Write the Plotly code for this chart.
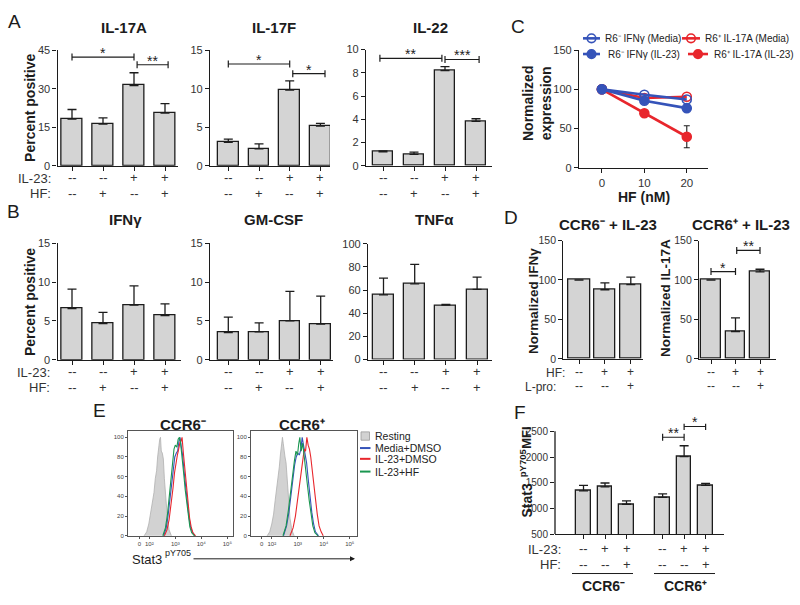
import plotly.graph_objects as go

# ---------------------------------------------------------------- data
# Panel A / B condition rows
a_il23 = ["--", "--", "+", "+"]
a_hf = ["--", "+", "--", "+"]

il17a_mean = [18.2, 16.2, 31.2, 20.5]
il17a_err = [3.7, 2.4, 5.0, 3.7]
il17f_mean = [3.05, 2.2, 9.8, 5.15]
il17f_err = [0.4, 0.65, 1.2, 0.35]
il22_mean = [1.2, 0.98, 8.2, 3.83]
il22_err = [0.08, 0.2, 0.33, 0.22]

ifng_mean = [6.6, 4.65, 7.05, 5.7]
ifng_err = [2.5, 1.45, 2.45, 1.5]
gmcsf_mean = [3.5, 3.6, 5.0, 4.6]
gmcsf_err = [2.0, 1.15, 3.8, 3.6]
tnfa_mean = [55.9, 65.3, 46.9, 60.5]
tnfa_err = [14.4, 16.9, 0.6, 10.7]

# significance brackets: (from bar, to bar, level, label)
il17a_sig = [(0, 2, 42.3, "*"), (2.1, 3.1, 39.3, "**")]
il17f_sig = [(0, 2, 13.2, "*"), (2.1, 3.15, 11.95, "*")]
il22_sig = [(-0.1, 1.9, 9.25, "**"), (2.0, 3.1, 9.15, "***")]

# Panel C
hf_nM = [0, 10, 20]
r6neg_ifng_media = [100, 93, 87]
r6neg_ifng_il23 = [100, 85.5, 76]
r6pos_il17a_media = [100, 89, 90.5]
r6pos_il17a_il23 = [100, 69.5, 39.5]
r6pos_il17a_il23_err = [0, 0, 14]

# Panel D
d_hf = ["--", "+", "+"]
d_lpro = ["--", "--", "+"]
d_ifng_mean = [100, 87.6, 94.2]
d_ifng_err = [0, 8.7, 9.5]
d_il17a_mean = [100, 34.7, 110.3]
d_il17a_err = [0, 17.3, 3.3]
d_il17a_sig = [(0, 1, 110.7, "*"), (1.05, 2, 137.5, "**")]

# Panel E (histograms, x in decades of Stat3 pY705 signal, y = % of max)
e_neg_rest_x = [1.80, 1.90, 1.98, 2.05, 2.12, 2.18, 2.23, 2.28, 2.32, 2.36, 2.40, 2.43, 2.46, 2.50, 2.54, 2.58, 2.63, 2.69, 2.76, 2.85]
e_neg_rest_y = [0, 4, 12, 22, 34, 44, 58, 66, 80, 90, 98, 100, 86, 84, 78, 58, 40, 20, 6, 0]
e_neg_media_x = [2.55, 2.65, 2.72, 2.80, 2.86, 2.92, 2.98, 3.04, 3.09, 3.14, 3.18, 3.22, 3.28, 3.34, 3.40, 3.46, 3.52, 3.58, 3.65, 3.75]
e_neg_media_y = [0, 8, 20, 38, 55, 70, 80, 84, 86, 96, 100, 92, 82, 65, 48, 34, 20, 10, 4, 0]
e_neg_il23_x = [2.58, 2.68, 2.76, 2.84, 2.91, 2.97, 3.03, 3.08, 3.13, 3.18, 3.22, 3.26, 3.31, 3.37, 3.43, 3.49, 3.55, 3.61, 3.68, 3.78]
e_neg_il23_y = [0, 6, 16, 32, 48, 64, 76, 82, 88, 95, 96, 100, 84, 66, 48, 32, 18, 9, 3, 0]
e_neg_hf_x = [2.52, 2.62, 2.70, 2.77, 2.84, 2.90, 2.95, 3.00, 3.06, 3.11, 3.16, 3.20, 3.26, 3.32, 3.38, 3.44, 3.50, 3.56, 3.63, 3.74]
e_neg_hf_y = [0, 8, 22, 42, 60, 74, 88, 92, 90, 98, 100, 95, 82, 64, 47, 32, 19, 9, 3, 0]

e_pos_rest_x = [1.82, 1.92, 2.00, 2.07, 2.13, 2.19, 2.24, 2.29, 2.33, 2.37, 2.41, 2.44, 2.47, 2.51, 2.55, 2.59, 2.64, 2.70, 2.77, 2.86]
e_pos_rest_y = [0, 4, 12, 22, 36, 48, 60, 70, 82, 92, 100, 94, 84, 80, 74, 56, 38, 18, 6, 0]
e_pos_media_x = [2.45, 2.57, 2.66, 2.73, 2.78, 2.82, 2.88, 2.94, 3.00, 3.06, 3.12, 3.17, 3.22, 3.28, 3.34, 3.40, 3.47, 3.54, 3.61, 3.68, 3.80]
e_pos_media_y = [0, 10, 24, 40, 52, 62, 72, 80, 84, 82, 88, 100, 92, 86, 74, 58, 40, 24, 12, 4, 0]
e_pos_il23_x = [2.70, 2.82, 2.91, 2.98, 3.04, 3.10, 3.15, 3.20, 3.25, 3.30, 3.35, 3.40, 3.45, 3.50, 3.56, 3.62, 3.68, 3.75, 3.82, 3.90, 3.98]
e_pos_il23_y = [0, 8, 20, 34, 46, 58, 68, 82, 88, 86, 100, 92, 88, 80, 64, 50, 38, 22, 10, 4, 0]
e_pos_hf_x = [2.43, 2.55, 2.64, 2.71, 2.76, 2.81, 2.87, 2.93, 2.99, 3.04, 3.08, 3.13, 3.19, 3.25, 3.31, 3.37, 3.44, 3.51, 3.58, 3.66, 3.78]
e_pos_hf_y = [0, 10, 26, 42, 55, 64, 76, 86, 82, 94, 100, 86, 94, 80, 68, 52, 36, 22, 10, 3, 0]
e_xtick_vals = [1.615, 2, 3, 4, 5]
e_xtick_text = ["0", "10²", "10³", "10⁴", "10⁵"]
e_series = ["Resting", "Media+DMSO", "IL-23+DMSO", "IL-23+HF"]

# Panel F
f_il23 = ["--", "+", "+", "--", "+", "+"]
f_hf = ["--", "--", "+", "--", "--", "+"]
f_group = ["CCR6-", "CCR6-", "CCR6-", "CCR6+", "CCR6+", "CCR6+"]
f_mfi = [1344, 1421, 1084, 1217, 2011, 1452]
f_err = [108, 76, 64, 70, 210, 38]
f_sig = [(3, 4, 2386, "**"), (4, 5, 2595, "*")]

# ---------------------------------------------------------------- style / helpers
W, H = 800, 605
FONT = "Arial, Liberation Sans, Helvetica, sans-serif"
BAR = "#d4d4d4"
INK = "#1c1c1c"
TICK = "#333333"
BLUE = "#3553b9"
RED = "#e8262c"
GREEN = "#1a9650"
GREY_FILL = "#d2d2d2"

fig = go.Figure()
layout = {}
ann = []
shapes = []
counter = [0]


def fx(px):
    return px / W


def fy(py):
    return 1 - py / H


def new_axes():
    counter[0] += 1
    n = counter[0]
    s = "" if n == 1 else str(n)
    return "x" + s, "y" + s, "xaxis" + s, "yaxis" + s


def text(x, y, s, size=12, bold=False, xanchor="center", yanchor="middle", angle=0, color=INK):
    ann.append(dict(xref="paper", yref="paper", x=fx(x), y=fy(y),
                    text=f"<b>{s}</b>" if bold else s, showarrow=False,
                    xanchor=xanchor, yanchor=yanchor, textangle=angle,
                    font=dict(size=size, color=color, family=FONT)))


def add_rows(xr, pos, rows, ys, size):
    # condition rows printed under each bar, placed through the x axis scale
    for labels, yy in zip(rows, ys):
        for p, lab in zip(pos, labels):
            ann.append(dict(xref=xr, yref="paper", x=p, y=fy(yy), text=lab, showarrow=False,
                            xanchor="center", yanchor="middle",
                            font=dict(size=size, color=TICK, family=FONT)))


def add_sig(xr, yr, sig, star_size=14):
    for (i, j, lvl, lab) in sig:
        shapes.append(dict(type="line", xref=xr, yref=yr, x0=i, x1=j, y0=lvl, y1=lvl,
                           line=dict(color=INK, width=1.2)))
        for xe in (i, j):
            shapes.append(dict(type="line", xref=xr, yref=yr, ysizemode="pixel", yanchor=lvl,
                               x0=xe, x1=xe, y0=-3.5, y1=3.5, line=dict(color=INK, width=1.2)))
        ann.append(dict(xref=xr, yref=yr, x=(i + j) / 2, y=lvl, text=lab, showarrow=False,
                        yanchor="bottom", yshift=-6, font=dict(size=star_size, color=INK, family=FONT)))


def bar_panel(means, errs, rows, row_ys, xpx, first_px, sp_px, ypx, yrange, yticks,
              width=0.67, pos=None, sig=None, rowfont=13, ytickfont=11, line_top=None):
    xr, yr, xk, yk = new_axes()
    pos = pos if pos is not None else list(range(len(means)))
    fig.add_trace(go.Bar(
        x=pos, y=means, width=width, xaxis=xr, yaxis=yr, showlegend=False, hoverinfo="skip",
        marker=dict(color=BAR, line=dict(color=INK, width=1.3)),
        error_y=dict(type="data", symmetric=False, array=errs, arrayminus=[0] * len(errs),
                     color=INK, thickness=1.3, width=4.5)))
    layout[xk] = dict(domain=[fx(xpx[0]), fx(xpx[1])], anchor=yr,
                      range=[(xpx[0] - first_px) / sp_px, (xpx[1] - first_px) / sp_px],
                      tickmode="array", tickvals=pos, showticklabels=False,
                      ticks="outside", ticklen=4, tickwidth=1.2, tickcolor=INK,
                      showline=True, linecolor=INK, linewidth=1.3,
                      showgrid=False, zeroline=False)
    layout[yk] = dict(domain=[fy(ypx[1]), fy(ypx[0])], anchor=xr, range=yrange,
                      tickmode="array", tickvals=yticks,
                      ticks="outside", ticklen=4, tickwidth=1.2, tickcolor=INK,
                      showline=line_top is None, linecolor=INK, linewidth=1.3,
                      showgrid=False, zeroline=False,
                      tickfont=dict(size=ytickfont, color=TICK, family=FONT))
    if line_top is not None:
        shapes.append(dict(type="line", xref=xr + " domain", yref=yr, x0=0, x1=0,
                           y0=yrange[0], y1=line_top, line=dict(color=INK, width=1.3)))
    add_rows(xr, pos, rows, row_ys, rowfont)
    if sig:
        add_sig(xr, yr, sig)
    return xr, yr


ab_rows = [a_il23, a_hf]

# ---------------------------------------------------------------- Panel A
A_ROWS = (175, 191)
bar_panel(il17a_mean, il17a_err, ab_rows, A_ROWS, (57.5, 178), 72, 31, (45, 163), [0, 45], [0, 15, 30, 45], sig=il17a_sig)
bar_panel(il17f_mean, il17f_err, ab_rows, A_ROWS, (210, 330), 228.3, 30.7, (45, 163), [0, 15], [0, 5, 10, 15], sig=il17f_sig)
bar_panel(il22_mean, il22_err, ab_rows, A_ROWS, (366, 492), 383, 31, (44.5, 163), [0, 10], [0, 2, 4, 6, 8, 10], sig=il22_sig)
text(14, 16, "A", size=19)
text(124, 22, "IL-17A", size=15, bold=True)
text(274, 22, "IL-17F", size=15, bold=True)
text(430, 22, "IL-22", size=15, bold=True)
text(30, 104, "Percent positive", size=14, bold=True, angle=-90)
text(53, A_ROWS[0] + 1, "IL-23:", size=13, xanchor="right", color=TICK)
text(53, A_ROWS[1], "HF:", size=13, xanchor="right", color=TICK)

# ---------------------------------------------------------------- Panel B
B_ROWS = (373, 389)
bar_panel(ifng_mean, ifng_err, ab_rows, B_ROWS, (57.5, 181), 72, 31, (242, 361), [0, 15], [0, 5, 10, 15])
bar_panel(gmcsf_mean, gmcsf_err, ab_rows, B_ROWS, (210, 333), 228.3, 30.8, (242, 361), [0, 15], [0, 5, 10, 15])
bar_panel(tnfa_mean, tnfa_err, ab_rows, B_ROWS, (368, 492), 383.5, 31.2, (242.5, 360.7), [0, 100], [0, 20, 40, 60, 80, 100])
text(13, 210, "B", size=19)
text(125, 218, "IFNγ", size=15, bold=True)
text(273, 218, "GM-CSF", size=15, bold=True)
text(434, 218, "TNFα", size=15, bold=True)
text(30, 302, "Percent positive", size=14, bold=True, angle=-90)
text(52, B_ROWS[0] + 1, "IL-23:", size=13, xanchor="right", color=TICK)
text(52, B_ROWS[1], "HF:", size=13, xanchor="right", color=TICK)

# ---------------------------------------------------------------- Panel C
xr, yr, xk, yk = new_axes()
c_series = [
    (r6pos_il17a_il23, "R6⁺ IL-17A (IL-23)", RED, "circle", r6pos_il17a_il23_err),
    (r6pos_il17a_media, "R6⁺ IL-17A (Media)", RED, "circle-open", None),
    (r6neg_ifng_media, "R6⁻ IFNγ (Media)", BLUE, "circle-open", None),
    (r6neg_ifng_il23, "R6⁻ IFNγ (IL-23)", BLUE, "circle", None),
]
for vals, name, col, sym, err in c_series:
    fig.add_trace(go.Scatter(
        x=hf_nM, y=vals, name=name, mode="lines+markers", xaxis=xr, yaxis=yr, showlegend=False,
        line=dict(color=col, width=2.6),
        marker=dict(symbol=sym, size=9, color=col, line=dict(color=col, width=1.6)),
        error_y=dict(type="data", array=err, color=INK, thickness=1.1, width=3) if err else None,
        hoverinfo="skip"))
layout[xk] = dict(domain=[fx(579), fx(708)], anchor=yr, range=[-5.4, 25],
                  tickmode="array", tickvals=[0, 10, 20], ticks="outside", ticklen=4,
                  tickcolor=INK, showline=True, linecolor=INK, linewidth=1.3, showgrid=False,
                  zeroline=False, tickfont=dict(size=11.5, color=TICK, family=FONT))
layout[yk] = dict(domain=[fy(165), fy(45)], anchor=xr, range=[0, 150],
                  tickmode="array", tickvals=[0, 50, 100, 150], ticks="outside", ticklen=4,
                  tickcolor=INK, showline=True, linecolor=INK, linewidth=1.3, showgrid=False,
                  zeroline=False, tickfont=dict(size=11, color=TICK, family=FONT))
text(518, 21, "C", size=19)
text(537, 100, "Normalized<br>expression", size=14, bold=True, angle=-90)
text(644, 195, "HF (nM)", size=14, bold=True)

# manual legend for C
c_leg = [
    (583, 600, 33, BLUE, False, 603, c_series[2][1]),
    (682, 700, 33, RED, False, 703, c_series[1][1]),
    (583, 600, 49, BLUE, True, 606, c_series[3][1]),
    (688, 708, 49, RED, True, 712, c_series[0][1]),
]
for x0, x1, yy, col, filled, tx, lab in c_leg:
    shapes.append(dict(type="line", xref="paper", yref="paper", x0=fx(x0), x1=fx(x1),
                       y0=fy(yy), y1=fy(yy), line=dict(color=col, width=2.6)))
    shapes.append(dict(type="circle", xref="paper", yref="paper", xsizemode="pixel", ysizemode="pixel",
                       xanchor=fx((x0 + x1) / 2), yanchor=fy(yy), x0=-4.3, x1=4.3, y0=-4.3, y1=4.3,
                       line=dict(color=col, width=1.6),
                       fillcolor=col if filled else "rgba(0,0,0,0)"))
    text(tx, yy, lab, size=10, xanchor="left", color="#222")

# ---------------------------------------------------------------- Panel D
D_ROWS = (373, 388)
d_rows = [d_hf, d_lpro]
bar_panel(d_ifng_mean, d_ifng_err, d_rows, D_ROWS, (563.3, 643), 579, 25.9, (239.3, 360), [0, 150],
          [0, 50, 100, 150], width=0.84, rowfont=12, ytickfont=10.5)
bar_panel(d_il17a_mean, d_il17a_err, d_rows, D_ROWS, (699, 776), 711, 24.5, (239.3, 360), [0, 150],
          [0, 50, 100, 150], width=0.78, rowfont=12, ytickfont=10.5, sig=d_il17a_sig)
text(511, 216, "D", size=19)
text(608, 223, "CCR6⁻ + IL-23", size=15, bold=True)
text(741, 223, "CCR6⁺ + IL-23", size=15, bold=True)
text(533, 301, "Normalized IFNγ", size=13.5, bold=True, angle=-90)
text(665, 298, "Normalized IL-17A", size=13.5, bold=True, angle=-90)
text(567, D_ROWS[0] + 1, "HF:", size=12, xanchor="right", color=TICK)
text(558, D_ROWS[1] + 1, "L-pro:", size=12, xanchor="right", color=TICK)

# ---------------------------------------------------------------- Panel E
e_panels = [
    ((128, 233), [1.18, 5.22], [(e_neg_rest_x, e_neg_rest_y), (e_neg_media_x, e_neg_media_y),
                                (e_neg_il23_x, e_neg_il23_y), (e_neg_hf_x, e_neg_hf_y)]),
    ((251, 357), [1.20, 5.28], [(e_pos_rest_x, e_pos_rest_y), (e_pos_media_x, e_pos_media_y),
                                (e_pos_il23_x, e_pos_il23_y), (e_pos_hf_x, e_pos_hf_y)]),
]
e_colors = ["#a8a8a8", BLUE, RED, GREEN]
for xpx, xrange_, curves in e_panels:
    xr, yr, xk, yk = new_axes()
    for k in [0, 1, 2, 3]:
        cx, cy = curves[k]
        if k == 0:
            fig.add_trace(go.Scatter(x=cx, y=cy, name=e_series[k], mode="lines", fill="tozeroy",
                                     fillcolor=GREY_FILL, line=dict(color="#b0b0b0", width=0.8),
                                     xaxis=xr, yaxis=yr, showlegend=False, hoverinfo="skip"))
        else:
            fig.add_trace(go.Scatter(x=cx, y=cy, name=e_series[k], mode="lines",
                                     line=dict(color=e_colors[k], width=1.1),
                                     xaxis=xr, yaxis=yr, showlegend=False, hoverinfo="skip"))
    layout[xk] = dict(domain=[fx(xpx[0]), fx(xpx[1])], anchor=yr, range=xrange_,
                      tickmode="array", tickvals=e_xtick_vals, ticktext=e_xtick_text,
                      ticks="outside", ticklen=2, tickcolor="#555", showline=True, mirror=True,
                      linecolor="#555", linewidth=1, showgrid=False, zeroline=False,
                      tickfont=dict(size=6, color="#444", family=FONT))
    layout[yk] = dict(domain=[fy(541), fy(434)], anchor=xr, range=[-0.5, 106],
                      tickmode="array", tickvals=[0, 20, 40, 60, 80, 100],
                      ticks="outside", ticklen=2, tickcolor="#555", showline=True, mirror=True,
                      linecolor="#555", linewidth=1, showgrid=False, zeroline=False,
                      tickfont=dict(size=6, color="#444", family=FONT))
text(99, 413, "E", size=19)
text(183, 427, "CCR6⁻", size=15, bold=True)
text(302, 427, "CCR6⁺", size=15, bold=True)
text(130, 565, "Stat3", size=13, xanchor="left")
text(163, 558.5, "pY705", size=9, xanchor="left")
ann.append(dict(xref="paper", yref="paper", x=fx(355), y=fy(564), ax=-163, ay=0, text="",
                showarrow=True, arrowhead=2, arrowsize=1, arrowwidth=1, arrowcolor=INK))
# manual legend for E
shapes.append(dict(type="rect", xref="paper", yref="paper", x0=fx(361), x1=fx(369.5),
                   y0=fy(443), y1=fy(434.5), fillcolor=GREY_FILL, line=dict(color="#999", width=0.8)))
text(373, 438.5, e_series[0], size=10.5, xanchor="left", color="#222")
for k, yy in zip([1, 2, 3], [451, 462, 475]):
    shapes.append(dict(type="line", xref="paper", yref="paper", x0=fx(360), x1=fx(370.5),
                       y0=fy(yy), y1=fy(yy), line=dict(color=e_colors[k], width=2)))
    text(373, yy, e_series[k], size=10.5, xanchor="left", color="#222")

# ---------------------------------------------------------------- Panel F
F_ROWS = (553, 570)
f_gap = 0.68
f_pos = [i + (f_gap if g == "CCR6+" else 0) for i, g in enumerate(f_group)]
f_sig_pos = [(f_pos[i], f_pos[j], lvl, lab) for i, j, lvl, lab in f_sig]
bar_panel(f_mfi, f_err, [f_il23, f_hf], F_ROWS, (555, 724), 583.5, 21.5, (426.1, 539), [500, 2650],
          [500, 1000, 1500, 2000, 2500], pos=f_pos, sig=f_sig_pos, ytickfont=10, line_top=2500)
text(520, 415, "F", size=19)
text(526.5, 505, "Stat3", size=14, bold=True, angle=-90)
text(522.5, 466, "pY705", size=9.5, bold=True, angle=-90)
text(526.5, 441, "MFI", size=13, bold=True, angle=-90)
text(563, F_ROWS[0] + 1, "IL-23:", size=13, xanchor="right", color=TICK)
text(563, F_ROWS[1], "HF:", size=13, xanchor="right", color=TICK)
for x0, x1 in [(572, 633), (654, 715)]:
    shapes.append(dict(type="line", xref="paper", yref="paper", x0=fx(x0), x1=fx(x1),
                       y0=fy(579), y1=fy(579), line=dict(color=INK, width=1)))
text(603, 592, "CCR6⁻", size=14, bold=True)
text(685, 592, "CCR6⁺", size=14, bold=True)

# ---------------------------------------------------------------- layout
fig.update_layout(
    width=W, height=H, margin=dict(l=0, r=0, t=0, b=0),
    paper_bgcolor="white", plot_bgcolor="white",
    font=dict(family=FONT, color=INK), showlegend=False, bargap=0,
    annotations=ann, shapes=shapes, **layout)

fig.write_html("out.html", config={"displayModeBar": False},
               post_script="document.body.style.margin='0px';")
